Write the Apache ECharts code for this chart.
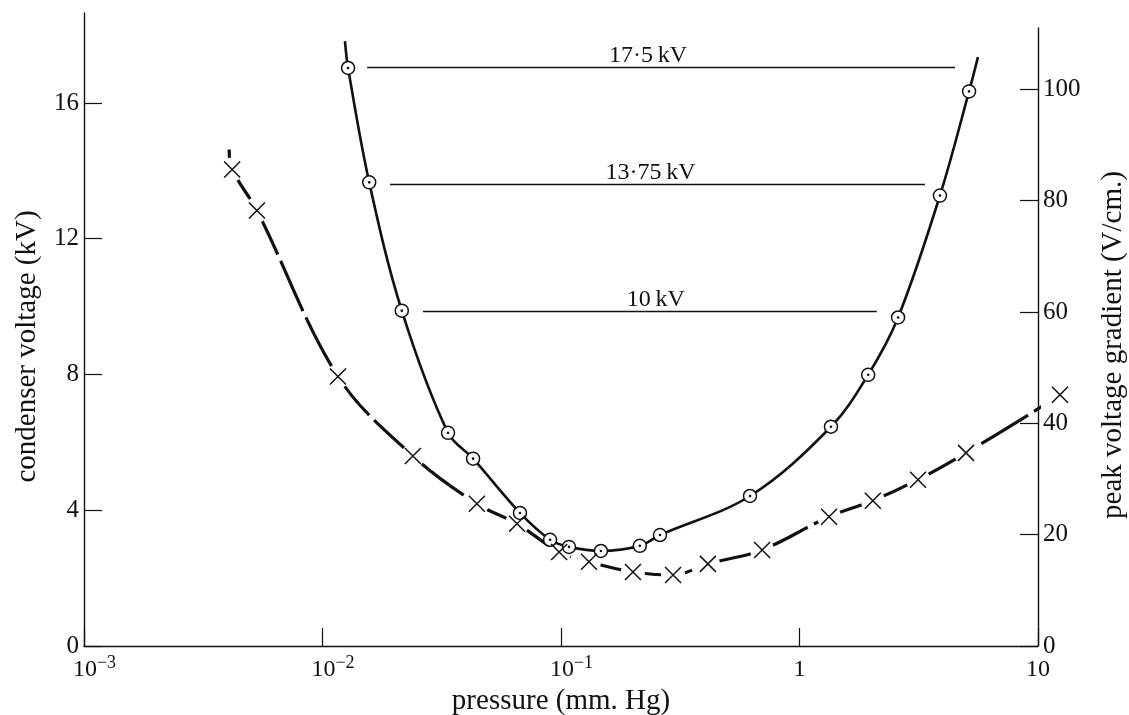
<!DOCTYPE html>
<html>
<head>
<meta charset="utf-8">
<title>condenser voltage against pressure</title>
<script src="https://cdn.jsdelivr.net/npm/echarts@6/dist/echarts.min.js"></script>
<style>
html, body { margin: 0; padding: 0; background: #fff; }
#chart { width: 1129px; height: 715px; }
</style>
</head>
<body>
<div id="chart"></div>
<script>
// circled points: pressure (mm Hg) and condenser voltage (kV)
const circleP = [0.0128, 0.0157, 0.0215, 0.0336, 0.0428, 0.0673, 0.090, 0.108, 0.147, 0.214, 0.260, 0.620, 1.355, 1.94, 2.59, 3.88, 5.14]
const circleV = [17.03, 13.66, 9.88, 6.28, 5.52, 3.92, 3.13, 2.92, 2.80, 2.95, 3.27, 4.42, 6.46, 7.99, 9.68, 13.27, 16.34]
// where the drawn curve through them starts and stops
const circleStart = [0.01242, 17.82]
const circleEnd = [5.6, 17.35]

// crosses: pressure (mm Hg) and condenser voltage (kV)
const crossP = [0.00418, 0.00531, 0.01161, 0.02393, 0.0444, 0.0654, 0.0982, 0.131, 0.2003, 0.295, 0.413, 0.697, 1.33, 2.03, 3.14, 4.99, 12.36]
const crossV = [14.04, 12.83, 7.94, 5.60, 4.19, 3.60, 2.77, 2.48, 2.18, 2.09, 2.42, 2.83, 3.81, 4.28, 4.90, 5.69, 7.40]
const crossStart = [0.00406, 14.63]
const crossEnd = [15.0, 7.85]

// horizontal level lines
const levelNames = ['17\u00b75\u2009kV', '13\u00b775\u2009kV', '10\u2009kV']
const levelV = [17.05, 13.6, 9.85]
const levelFrom = [0.01539, 0.01918, 0.02637]
const levelTo = [4.49, 3.36, 2.11]

// tick labels
const leftTicks = [0, 4, 8, 12, 16]
const rightTicks = [0, 20, 40, 60, 80, 100]

const font = '"Liberation Serif", "Times New Roman", serif'
const ink = '#111'

const circleData = circleP.map((p, i) => [p, circleV[i]])
const crossData = crossP.map((p, i) => [p, crossV[i]])
const circleCurve = [circleStart].concat(circleData, [circleEnd])
const crossCurve = [crossStart].concat(crossData, [crossEnd])

// nudge each level label sideways (left, right padding in px)
const labelPad = [[0, 26], [0, 14], [12, 0]]

const chart = echarts.init(document.getElementById('chart'))

chart.setOption({
  backgroundColor: '#fff',
  animation: false,
  grid: [
    { left: 84, right: 91, top: 13, bottom: 69, outerBoundsMode: 'none' },
    { left: 84, right: 91, top: 28, bottom: 69, outerBoundsMode: 'none' }
  ],
  xAxis: [
    {
      type: 'log',
      logBase: 10,
      gridIndex: 0,
      min: 0.001,
      max: 10,
      axisLine: { show: true, lineStyle: { color: ink, width: 1.4 } },
      axisTick: { show: true, inside: true, length: 18, lineStyle: { color: ink, width: 1.2 } },
      minorTick: { show: false },
      splitLine: { show: false },
      axisLabel: {
        margin: 8,
        formatter: v => {
          const e = Math.round(Math.log10(v))
          if (e >= 0) return '{b|' + Math.pow(10, e) + '}'
          return '{p| }{b|10}{s|\u2212' + (-e) + '}'
        },
        rich: {
          b: { fontFamily: font, fontSize: 24, lineHeight: 24, padding: [7, 0, 0, 0], color: ink },
          s: { fontFamily: font, fontSize: 18, lineHeight: 18, verticalAlign: 'top', color: ink },
          p: { width: 21 }
        }
      },
      name: 'pressure (mm. Hg)',
      nameLocation: 'middle',
      nameGap: 38,
      nameTextStyle: { fontFamily: font, fontSize: 29, color: ink }
    },
    { type: 'value', gridIndex: 1, show: false, min: 0, max: 1 }
  ],
  yAxis: [
    {
      type: 'value',
      gridIndex: 0,
      position: 'left',
      min: 0,
      max: 18.65,
      axisLine: { show: true, onZero: false, lineStyle: { color: ink, width: 1.4 } },
      axisTick: { show: true, inside: true, length: 18, customValues: leftTicks, lineStyle: { color: ink, width: 1.2 } },
      splitLine: { show: false },
      axisLabel: { customValues: leftTicks, margin: 5, fontFamily: font, fontSize: 25, color: ink },
      name: 'condenser voltage (kV)',
      nameLocation: 'middle',
      nameRotate: 90,
      nameGap: 42,
      nameTextStyle: { fontFamily: font, fontSize: 29, color: ink, padding: [0, 34, 0, 0] }
    },
    {
      type: 'value',
      gridIndex: 1,
      position: 'right',
      min: 0,
      max: 111,
      axisLine: { show: true, onZero: false, lineStyle: { color: ink, width: 1.4 } },
      axisTick: { show: true, inside: true, length: 18, customValues: rightTicks, lineStyle: { color: ink, width: 1.2 } },
      splitLine: { show: false },
      axisLabel: { customValues: rightTicks, margin: 5, fontFamily: font, fontSize: 25, color: ink },
      name: 'peak voltage gradient (V/cm.)',
      nameLocation: 'middle',
      nameRotate: 90,
      nameGap: 61,
      nameTextStyle: { fontFamily: font, fontSize: 29, color: ink, padding: [0, 16, 0, 0] }
    }
  ],
  series: [
    {
      // dashed curve through the crosses
      type: 'line',
      data: crossCurve,
      smooth: 0.35,
      symbol: 'none',
      clip: false,
      silent: true,
      z: 2,
      lineStyle: { color: ink, width: 3.2, type: [55, 7] }
    },
    {
      // white gaps in the dashed line around each cross
      type: 'scatter',
      data: crossData,
      symbol: 'circle',
      symbolSize: 24,
      clip: false,
      silent: true,
      z: 3,
      itemStyle: { color: '#fff', opacity: 1 }
    },
    {
      type: 'line',
      data: circleCurve,
      smooth: 0.35,
      symbol: 'none',
      clip: false,
      silent: true,
      z: 4,
      lineStyle: { color: ink, width: 2.6 },
      markLine: {
        silent: true,
        symbol: ['none', 'none'],
        lineStyle: { color: ink, width: 1.4, type: 'solid' },
        label: {
          show: true,
          position: 'insideMiddleTop',
          distance: 0,
          formatter: '{b}',
          fontFamily: font,
          fontSize: 24,
          color: ink
        },
        data: levelNames.map((n, i) => [
          { name: n, coord: [levelFrom[i], levelV[i]], label: { padding: [0, labelPad[i][1], 0, labelPad[i][0]] } },
          { coord: [levelTo[i], levelV[i]] }
        ])
      }
    },
    {
      type: 'scatter',
      data: circleData,
      symbol: 'circle',
      symbolSize: 13,
      silent: true,
      z: 5,
      itemStyle: { color: '#fff', borderColor: ink, borderWidth: 1.5, opacity: 1 }
    },
    {
      type: 'scatter',
      data: circleData,
      symbol: 'circle',
      symbolSize: 2.6,
      silent: true,
      z: 6,
      itemStyle: { color: ink, opacity: 1 }
    },
    {
      type: 'scatter',
      data: crossData,
      symbol: 'path://M0,0L1,1M1,0L0,1',
      symbolSize: 16,
      clip: false,
      silent: true,
      z: 7,
      itemStyle: { color: ink, borderColor: ink, borderWidth: 1.5, opacity: 1 }
    }
  ]
})
</script>
</body>
</html>
